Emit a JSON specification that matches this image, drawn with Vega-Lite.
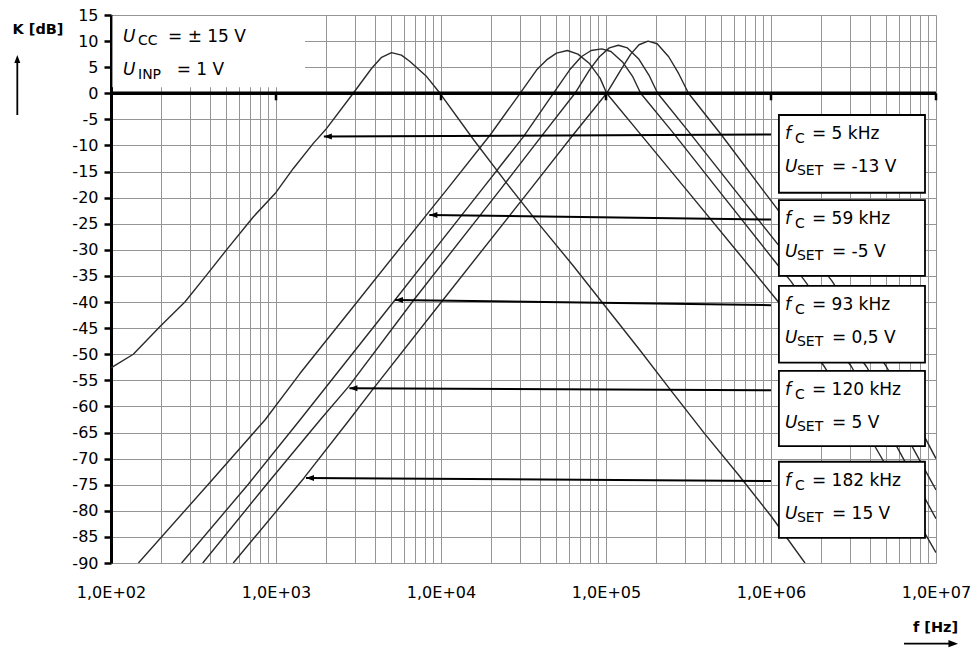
{
  "$schema": "https://vega.github.io/schema/vega-lite/v6.json",
  "width": 825,
  "height": 548,
  "autosize": {"type": "none"},
  "padding": {"left": 111, "top": 15, "right": 42, "bottom": 85},
  "background": "white",
  "config": {"view": {"stroke": null}, "font": "DejaVu Sans"},
  "datasets": {
    "curves": [
      {"s": "5 kHz", "f": 100, "db": -52.6}, {"s": "5 kHz", "f": 136.5, "db": -50.0}, {"s": "5 kHz", "f": 198.2, "db": -44.7},
      {"s": "5 kHz", "f": 280.5, "db": -40.0}, {"s": "5 kHz", "f": 380.2, "db": -34.8}, {"s": "5 kHz", "f": 501.2, "db": -30.0},
      {"s": "5 kHz", "f": 727.8, "db": -23.7}, {"s": "5 kHz", "f": 1000, "db": -19.0}, {"s": "5 kHz", "f": 1273.5, "db": -14.4},
      {"s": "5 kHz", "f": 1682.7, "db": -9.6}, {"s": "5 kHz", "f": 1995.3, "db": -7.0}, {"s": "5 kHz", "f": 2937.8, "db": 0.0},
      {"s": "5 kHz", "f": 3801.9, "db": 4.8}, {"s": "5 kHz", "f": 4365.2, "db": 6.9}, {"s": "5 kHz", "f": 5011.9, "db": 7.8},
      {"s": "5 kHz", "f": 5754.4, "db": 7.3}, {"s": "5 kHz", "f": 6486.3, "db": 6.1}, {"s": "5 kHz", "f": 8184.6, "db": 3.2},
      {"s": "5 kHz", "f": 9863, "db": 0.0}, {"s": "5 kHz", "f": 15849, "db": -9.0}, {"s": "5 kHz", "f": 25119, "db": -17.3},
      {"s": "5 kHz", "f": 39811, "db": -25.3}, {"s": "5 kHz", "f": 63096, "db": -33.0}, {"s": "5 kHz", "f": 100000, "db": -41.0},
      {"s": "5 kHz", "f": 158489, "db": -49.0}, {"s": "5 kHz", "f": 251189, "db": -57.2}, {"s": "5 kHz", "f": 398107, "db": -65.3},
      {"s": "5 kHz", "f": 630957, "db": -73.0}, {"s": "5 kHz", "f": 1000000, "db": -81.0}, {"s": "5 kHz", "f": 1606941, "db": -90.0},

      {"s": "59 kHz", "f": 146.6, "db": -90.0}, {"s": "59 kHz", "f": 389.0, "db": -74.9}, {"s": "59 kHz", "f": 857.0, "db": -62.6},
      {"s": "59 kHz", "f": 1396.4, "db": -53.7}, {"s": "59 kHz", "f": 3169.6, "db": -39.6}, {"s": "59 kHz", "f": 8709.6, "db": -22.2},
      {"s": "59 kHz", "f": 10814, "db": -18.5}, {"s": "59 kHz", "f": 19953, "db": -7.9}, {"s": "59 kHz", "f": 30130, "db": 0.0},
      {"s": "59 kHz", "f": 38019, "db": 4.5}, {"s": "59 kHz", "f": 43652, "db": 6.4}, {"s": "59 kHz", "f": 50119, "db": 7.7},
      {"s": "59 kHz", "f": 58345, "db": 8.2}, {"s": "59 kHz", "f": 67608, "db": 7.5}, {"s": "59 kHz", "f": 79433, "db": 5.7},
      {"s": "59 kHz", "f": 92045, "db": 2.9}, {"s": "59 kHz", "f": 100925, "db": 0.0}, {"s": "59 kHz", "f": 158489, "db": -7.5},
      {"s": "59 kHz", "f": 307610, "db": -18.5}, {"s": "59 kHz", "f": 630957, "db": -30.5}, {"s": "59 kHz", "f": 1109175, "db": -40.0},
      {"s": "59 kHz", "f": 2108628, "db": -52.4}, {"s": "59 kHz", "f": 3981072, "db": -66.0}, {"s": "59 kHz", "f": 10000000, "db": -88.0},

      {"s": "93 kHz", "f": 267.9, "db": -90.0}, {"s": "93 kHz", "f": 679.2, "db": -74.9}, {"s": "93 kHz", "f": 1396.4, "db": -62.6},
      {"s": "93 kHz", "f": 5260.2, "db": -39.6}, {"s": "93 kHz", "f": 17620, "db": -18.5}, {"s": "93 kHz", "f": 31623, "db": -8.3},
      {"s": "93 kHz", "f": 47973, "db": 0.0}, {"s": "93 kHz", "f": 60256, "db": 4.5}, {"s": "93 kHz", "f": 70795, "db": 7.0},
      {"s": "93 kHz", "f": 81283, "db": 8.2}, {"s": "93 kHz", "f": 94189, "db": 8.5}, {"s": "93 kHz", "f": 107152, "db": 8.0},
      {"s": "93 kHz", "f": 125893, "db": 6.0}, {"s": "93 kHz", "f": 144544, "db": 3.3}, {"s": "93 kHz", "f": 162181, "db": 0.0},
      {"s": "93 kHz", "f": 251189, "db": -7.3}, {"s": "93 kHz", "f": 478630, "db": -18.5}, {"s": "93 kHz", "f": 1116863, "db": -33.2},
      {"s": "93 kHz", "f": 1318257, "db": -36.0}, {"s": "93 kHz", "f": 3076097, "db": -52.4}, {"s": "93 kHz", "f": 5623413, "db": -67.0},
      {"s": "93 kHz", "f": 10000000, "db": -81.5},

      {"s": "120 kHz", "f": 359.7, "db": -90.0}, {"s": "120 kHz", "f": 879.0, "db": -74.9}, {"s": "120 kHz", "f": 1849.3, "db": -62.6},
      {"s": "120 kHz", "f": 2754.2, "db": -56.2}, {"s": "120 kHz", "f": 6839.1, "db": -39.6}, {"s": "120 kHz", "f": 22803, "db": -18.5},
      {"s": "120 kHz", "f": 39811, "db": -8.6}, {"s": "120 kHz", "f": 64863, "db": 0.0}, {"s": "120 kHz", "f": 79433, "db": 4.5},
      {"s": "120 kHz", "f": 91201, "db": 7.0}, {"s": "120 kHz", "f": 104713, "db": 8.7}, {"s": "120 kHz", "f": 118850, "db": 9.2},
      {"s": "120 kHz", "f": 134896, "db": 8.7}, {"s": "120 kHz", "f": 158489, "db": 6.5}, {"s": "120 kHz", "f": 181970, "db": 3.5},
      {"s": "120 kHz", "f": 205589, "db": 0.0}, {"s": "120 kHz", "f": 316228, "db": -7.3}, {"s": "120 kHz", "f": 602560, "db": -18.5},
      {"s": "120 kHz", "f": 1116863, "db": -29.2}, {"s": "120 kHz", "f": 1606941, "db": -36.0}, {"s": "120 kHz", "f": 3793149, "db": -52.4},
      {"s": "120 kHz", "f": 6309573, "db": -64.5}, {"s": "120 kHz", "f": 10000000, "db": -76.0},

      {"s": "182 kHz", "f": 550.8, "db": -90.0}, {"s": "182 kHz", "f": 1479.1, "db": -73.7}, {"s": "182 kHz", "f": 2779.7, "db": -62.6},
      {"s": "182 kHz", "f": 3890.5, "db": -56.6}, {"s": "182 kHz", "f": 10280, "db": -39.6}, {"s": "182 kHz", "f": 34594, "db": -18.5},
      {"s": "182 kHz", "f": 63096, "db": -8.0}, {"s": "182 kHz", "f": 100925, "db": 0.0}, {"s": "182 kHz", "f": 123027, "db": 4.5},
      {"s": "182 kHz", "f": 141254, "db": 7.5}, {"s": "182 kHz", "f": 158489, "db": 9.3}, {"s": "182 kHz", "f": 179887, "db": 10.0},
      {"s": "182 kHz", "f": 204174, "db": 9.5}, {"s": "182 kHz", "f": 239883, "db": 7.0}, {"s": "182 kHz", "f": 275423, "db": 3.8},
      {"s": "182 kHz", "f": 316228, "db": 0.0}, {"s": "182 kHz", "f": 501187, "db": -8.0}, {"s": "182 kHz", "f": 891251, "db": -18.5},
      {"s": "182 kHz", "f": 2344229, "db": -36.0}, {"s": "182 kHz", "f": 5011872, "db": -52.4}, {"s": "182 kHz", "f": 7079458, "db": -61.0},
      {"s": "182 kHz", "f": 10000000, "db": -70.0}
    ],
    "boxes": [
      {"f": 1116863, "f2": 8576959, "db": -4.16, "db2": -19.06, "fc": "= 5 kHz", "us": "= -13 V"},
      {"f": 1116863, "f2": 8576959, "db": -20.46, "db2": -35.0, "fc": "= 59 kHz", "us": "= -5 V"},
      {"f": 1116863, "f2": 8576959, "db": -36.9, "db2": -51.6, "fc": "= 93 kHz", "us": "= 0,5 V"},
      {"f": 1116863, "f2": 8576959, "db": -53.2, "db2": -67.6, "fc": "= 120 kHz", "us": "= 5 V"},
      {"f": 1116863, "f2": 8576959, "db": -70.6, "db2": -85.2, "fc": "= 182 kHz", "us": "= 15 V"}
    ],
    "arrows": [
      {"f": 1000000, "db": -7.9, "f2": 1950, "db2": -8.3},
      {"f": 1000000, "db": -24.2, "f2": 8500, "db2": -23.3},
      {"f": 1000000, "db": -40.6, "f2": 5260, "db2": -39.6},
      {"f": 1000000, "db": -56.9, "f2": 2786, "db2": -56.5},
      {"f": 1000000, "db": -74.3, "f2": 1520, "db2": -73.7}
    ],
    "heads": [
      {"f": 1950, "db": -8.3},
      {"f": 8500, "db": -23.3},
      {"f": 5260, "db": -39.6},
      {"f": 2786, "db": -56.5},
      {"f": 1520, "db": -73.7}
    ],
    "corner": [{"f": 100, "db": 15}]
  },
  "encoding": {
    "x": {
      "field": "f", "type": "quantitative",
      "scale": {"type": "log", "domain": [100, 10000000], "nice": false},
      "axis": {
        "title": "f [Hz]",
        "values": [100, 200, 300, 400, 500, 600, 700, 800, 900, 1000, 2000, 3000, 4000, 5000, 6000, 7000, 8000, 9000, 10000, 20000, 30000, 40000, 50000, 60000, 70000, 80000, 90000, 100000, 200000, 300000, 400000, 500000, 600000, 700000, 800000, 900000, 1000000, 2000000, 3000000, 4000000, 5000000, 6000000, 7000000, 8000000, 9000000, 10000000],
        "labelExpr": "datum.value == pow(10, round(log(datum.value)/LN10)) ? '1,0E+0' + round(log(datum.value)/LN10) : ''",
        "labelOverlap": false, "labelFlush": false, "labelBound": false,
        "labelFont": "DejaVu Sans", "labelFontSize": 16, "labelColor": "black", "labelPadding": 21,
        "ticks": false, "tickSize": 0, "domain": false,
        "grid": true, "gridColor": "#959595", "gridWidth": 1,
        "titleFont": "DejaVu Sans", "titleFontWeight": "bold", "titleFontSize": 14.5, "titleColor": "black",
        "titleX": 824, "titleY": 68.7, "titleAlign": "center", "titleBaseline": "alphabetic", "titleAngle": 0
      }
    },
    "y": {
      "field": "db", "type": "quantitative",
      "scale": {"domain": [-90, 15], "nice": false, "zero": false},
      "axis": {
        "title": "K [dB]",
        "values": [-90, -85, -80, -75, -70, -65, -60, -55, -50, -45, -40, -35, -30, -25, -20, -15, -10, -5, 0, 5, 10, 15],
        "tickCount": 22,
        "labelExpr": "'' + datum.value",
        "labelOverlap": false, "labelFlush": false, "labelBound": false,
        "labelFont": "DejaVu Sans", "labelFontSize": 16, "labelColor": "black", "labelPadding": 6,
        "ticks": true, "tickSize": 7, "tickWidth": 2.5, "tickColor": "black",
        "domain": true, "domainColor": "black", "domainWidth": 3,
        "grid": true, "gridColor": "#959595", "gridWidth": 1,
        "titleFont": "DejaVu Sans", "titleFontWeight": "bold", "titleFontSize": 14.5, "titleColor": "black",
        "titleAngle": 0, "titleX": -73.5, "titleY": 18.3, "titleAlign": "center", "titleBaseline": "alphabetic"
      }
    }
  },
  "layer": [
    {
      "data": {"name": "curves"},
      "mark": {"type": "line", "stroke": "#2a2a2a", "strokeWidth": 1.4, "strokeJoin": "round", "clip": true},
      "encoding": {"detail": {"field": "s"}}
    },
    {
      "data": {"values": [{"f": 102, "f2": 1500, "db": 14.8, "db2": 1.15}]},
      "mark": {"type": "rect", "fill": "white", "strokeWidth": 0},
      "encoding": {"x2": {"field": "f2"}, "y2": {"field": "db2"}}
    },
    {
      "data": {"values": [{"f": 100, "f2": 10000000, "db": 0}]},
      "mark": {"type": "rule", "color": "black", "strokeWidth": 3.5},
      "encoding": {"x2": {"field": "f2"}}
    },
    {
      "data": {"values": [{"f": 1000, "db": 0}, {"f": 10000, "db": 0}, {"f": 100000, "db": 0}, {"f": 1000000, "db": 0}, {"f": 10000000, "db": 0}]},
      "mark": {"type": "tick", "orient": "vertical", "color": "black", "size": 7, "thickness": 2.5, "yOffset": 3.5, "opacity": 1}
    },
    {
      "data": {"name": "arrows"},
      "mark": {"type": "rule", "color": "black", "strokeWidth": 2},
      "encoding": {"x2": {"field": "f2"}, "y2": {"field": "db2"}}
    },
    {
      "data": {"name": "heads"},
      "mark": {"type": "point", "shape": "M0,0L1.6,-0.6L1.6,0.6Z", "size": 100, "filled": true, "fill": "black", "strokeWidth": 0, "opacity": 1}
    },
    {
      "data": {"name": "boxes"},
      "mark": {"type": "rect", "fill": "white", "stroke": "black", "strokeWidth": 1.8},
      "encoding": {"x2": {"field": "f2"}, "y2": {"field": "db2"}}
    },
    {
      "data": {"name": "boxes"},
      "mark": {"type": "text", "align": "left", "baseline": "alphabetic", "dx": 6, "dy": 24, "font": "DejaVu Sans", "fontStyle": "italic", "fontSize": 17, "color": "black"},
      "encoding": {"text": {"value": "f"}}
    },
    {
      "data": {"name": "boxes"},
      "mark": {"type": "text", "align": "left", "baseline": "alphabetic", "dx": 16, "dy": 28, "font": "DejaVu Sans", "fontSize": 14, "color": "black"},
      "encoding": {"text": {"value": "C"}}
    },
    {
      "data": {"name": "boxes"},
      "mark": {"type": "text", "align": "left", "baseline": "alphabetic", "dx": 33, "dy": 24, "font": "DejaVu Sans", "fontSize": 17, "color": "black"},
      "encoding": {"text": {"field": "fc"}}
    },
    {
      "data": {"name": "boxes"},
      "mark": {"type": "text", "align": "left", "baseline": "alphabetic", "dx": 6, "dy": 57, "font": "DejaVu Sans", "fontStyle": "italic", "fontSize": 17, "color": "black"},
      "encoding": {"text": {"value": "U"}}
    },
    {
      "data": {"name": "boxes"},
      "mark": {"type": "text", "align": "left", "baseline": "alphabetic", "dx": 18, "dy": 60, "font": "DejaVu Sans", "fontSize": 14, "color": "black"},
      "encoding": {"text": {"value": "SET"}}
    },
    {
      "data": {"name": "boxes"},
      "mark": {"type": "text", "align": "left", "baseline": "alphabetic", "dx": 53, "dy": 57, "font": "DejaVu Sans", "fontSize": 17, "color": "black"},
      "encoding": {"text": {"field": "us"}}
    },
    {
      "data": {"name": "corner"},
      "mark": {"type": "text", "align": "left", "baseline": "alphabetic", "dx": 12, "dy": 26.7, "font": "DejaVu Sans", "fontStyle": "italic", "fontSize": 17, "color": "black"},
      "encoding": {"text": {"value": "U"}}
    },
    {
      "data": {"name": "corner"},
      "mark": {"type": "text", "align": "left", "baseline": "alphabetic", "dx": 27, "dy": 30, "font": "DejaVu Sans", "fontSize": 14, "color": "black"},
      "encoding": {"text": {"value": "CC"}}
    },
    {
      "data": {"name": "corner"},
      "mark": {"type": "text", "align": "left", "baseline": "alphabetic", "dx": 57, "dy": 26.7, "font": "DejaVu Sans", "fontSize": 17, "color": "black"},
      "encoding": {"text": {"value": "= ± 15 V"}}
    },
    {
      "data": {"name": "corner"},
      "mark": {"type": "text", "align": "left", "baseline": "alphabetic", "dx": 12, "dy": 60, "font": "DejaVu Sans", "fontStyle": "italic", "fontSize": 17, "color": "black"},
      "encoding": {"text": {"value": "U"}}
    },
    {
      "data": {"name": "corner"},
      "mark": {"type": "text", "align": "left", "baseline": "alphabetic", "dx": 27, "dy": 64, "font": "DejaVu Sans", "fontSize": 14, "color": "black"},
      "encoding": {"text": {"value": "INP"}}
    },
    {
      "data": {"name": "corner"},
      "mark": {"type": "text", "align": "left", "baseline": "alphabetic", "dx": 65.7, "dy": 60, "font": "DejaVu Sans", "fontSize": 17, "color": "black"},
      "encoding": {"text": {"value": "= 1 V"}}
    },
    {
      "data": {"values": [{"f": 27.05, "db": -4.16, "db2": 6.0}]},
      "mark": {"type": "rule", "color": "black", "strokeWidth": 1.8},
      "encoding": {"y2": {"field": "db2"}}
    },
    {
      "data": {"values": [{"f": 27.05, "db": 7.34}]},
      "mark": {"type": "point", "shape": "M0,0L-0.6,1.6L0.6,1.6Z", "size": 100, "filled": true, "fill": "black", "strokeWidth": 0, "opacity": 1}
    },
    {
      "data": {"values": [{"f": 6400000, "f2": 12500000, "db": -105.45}]},
      "mark": {"type": "rule", "color": "black", "strokeWidth": 1.8},
      "encoding": {"x2": {"field": "f2"}}
    },
    {
      "data": {"values": [{"f": 13600000, "db": -105.45}]},
      "mark": {"type": "point", "shape": "M0,0L-1.6,-0.6L-1.6,0.6Z", "size": 144, "filled": true, "fill": "black", "strokeWidth": 0, "opacity": 1}
    }
  ]
}
